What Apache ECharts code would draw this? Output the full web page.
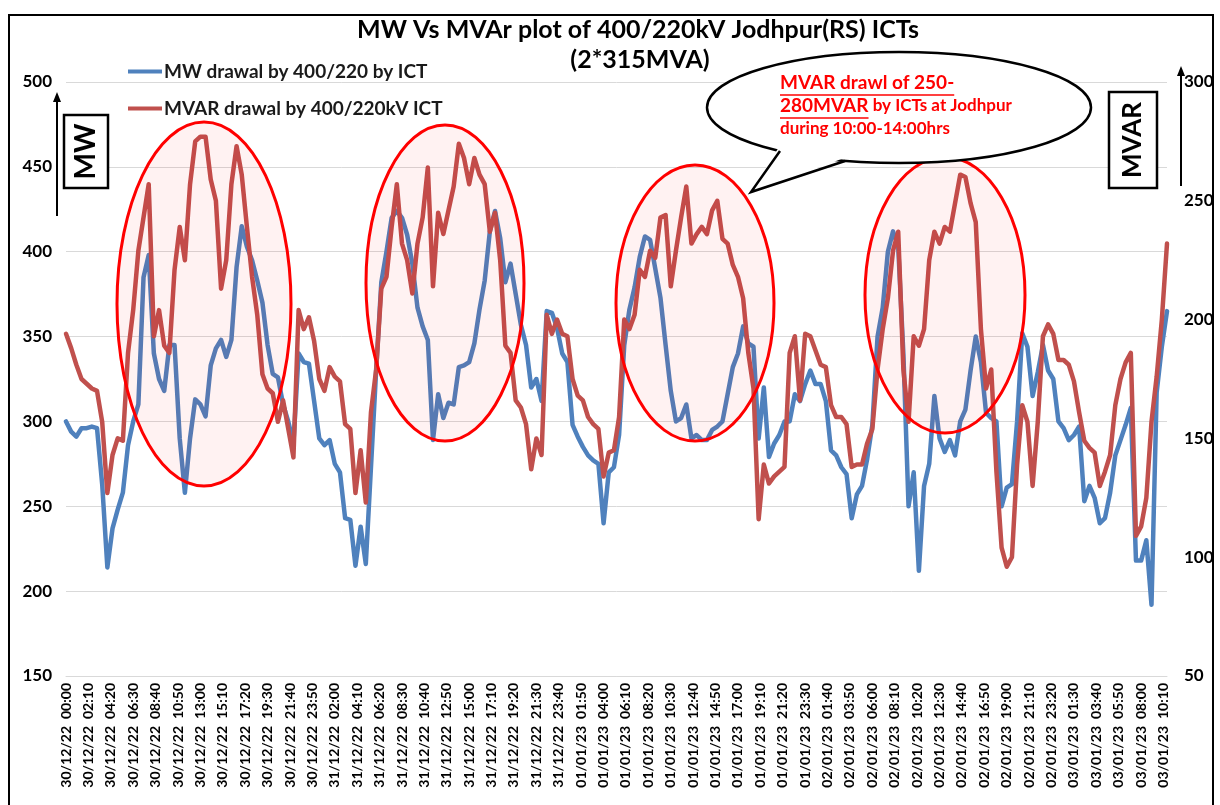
<!DOCTYPE html>
<html><head><meta charset="utf-8">
<script src="https://cdn.jsdelivr.net/npm/echarts@6/dist/echarts.min.js"></script>
<style>html,body{margin:0;padding:0;background:#fff}#c{width:1220px;height:805px}</style>
</head><body><div id="c"></div>
<script>
// ---------- data ----------
const tickLabels = ['30/12/22 00:00','30/12/22 02:10','30/12/22 04:20','30/12/22 06:30','30/12/22 08:40','30/12/22 10:50','30/12/22 13:00','30/12/22 15:10','30/12/22 17:20','30/12/22 19:30','30/12/22 21:40','30/12/22 23:50','31/12/22 02:00','31/12/22 04:10','31/12/22 06:20','31/12/22 08:30','31/12/22 10:40','31/12/22 12:50','31/12/22 15:00','31/12/22 17:10','31/12/22 19:20','31/12/22 21:30','31/12/22 23:40','01/01/23 01:50','01/01/23 04:00','01/01/23 06:10','01/01/23 08:20','01/01/23 10:30','01/01/23 12:40','01/01/23 14:50','01/01/23 17:00','01/01/23 19:10','01/01/23 21:20','01/01/23 23:30','02/01/23 01:40','02/01/23 03:50','02/01/23 06:00','02/01/23 08:10','02/01/23 10:20','02/01/23 12:30','02/01/23 14:40','02/01/23 16:50','02/01/23 19:00','02/01/23 21:10','02/01/23 23:20','03/01/23 01:30','03/01/23 03:40','03/01/23 05:50','03/01/23 08:00','03/01/23 10:10'];
const labelEvery = 13;          // one tick label every 13 samples (130 min)
const sampleCount = 640;        // 10-minute samples
const sampleStep = 3;           // values below are read every 3rd sample (30 min)

const mwValues = [
300,294,291,296,296,297,296,263,214,237,248,258,286,300,310,385,398,340,325,318,345,345,290,258,290,313,310,303,333,343,348,
338,348,391,415,403,395,383,370,345,328,326,310,300,287,340,335,334,312,290,286,289,275,270,243,242,215,238,216,273,330,382,
400,420,424,420,410,393,367,356,348,289,316,302,311,310,332,333,335,346,366,383,412,424,408,382,393,375,357,345,320,325,312,
365,364,355,340,335,298,291,285,280,277,275,240,270,273,292,345,366,379,397,409,407,390,373,345,318,300,302,310,290,292,289,
289,295,297,300,316,332,340,356,346,344,290,320,279,287,292,300,300,316,312,322,330,322,322,312,283,280,273,269,243,257,262,
278,298,350,367,400,412,403,340,250,270,212,262,275,315,290,282,289,280,300,307,330,350,335,305,302,300,250,261,263,300,352,
344,315,329,345,330,325,300,296,289,292,297,253,262,255,240,243,258,280,289,298,308,218,218,230,192,317,344,365];

const mvarValues = [
194,188,181,175,173,171,170,157,127,143,150,149,186,204,229,243,257,193,204,189,186,221,239,225,257,275,277,277,259,250,213,
225,257,273,261,239,218,202,177,171,169,157,166,154,142,204,196,201,191,175,170,180,176,174,156,154,127,145,123,161,179,213,
218,239,257,232,225,211,232,243,264,214,245,236,246,256,274,268,257,268,261,257,237,245,225,189,186,166,163,156,137,150,143,
202,194,200,194,193,175,168,166,159,156,154,134,144,145,159,200,196,202,221,218,229,226,243,244,214,229,243,256,232,236,239,
236,246,250,234,232,223,218,209,186,171,116,139,131,134,136,138,186,193,166,194,193,187,181,180,164,159,159,156,138,139,139,
148,154,179,196,209,229,237,179,157,193,189,196,225,237,232,239,237,249,261,260,249,241,196,171,179,136,104,96,100,139,164,
157,130,157,193,198,194,183,183,181,174,161,149,146,144,130,136,143,164,175,182,186,109,113,125,157,176,200,232];

const seriesNames = ['MW drawal by 400/220 by ICT','MVAR drawal by 400/220kV ICT'];
const titleLines = ['MW Vs MVAr plot of 400/220kV Jodhpur(RS) ICTs','(2*315MVA)'];
const calloutLines = ['MVAR drawl of 250-','280MVAR',' by ICTs at Jodhpur','during 10:00-14:00hrs'];

// ---------- categories (10-minute timestamps) ----------
function pad(n){return (n<10?'0':'')+n;}
const t0 = Date.UTC(2022,11,30,0,0);
const categories = [];
for (let i=0;i<sampleCount;i++){
  const d = new Date(t0 + i*600000);
  categories.push(pad(d.getUTCDate())+'/'+pad(d.getUTCMonth()+1)+'/'+String(d.getUTCFullYear()).slice(2)+' '+pad(d.getUTCHours())+':'+pad(d.getUTCMinutes()));
}

// ---------- helpers ----------
const FF = 'Lato';
function textWidth(t, size){
  const c = document.createElement('canvas').getContext('2d');
  c.font = 'bold '+size+'px '+FF;
  return c.measureText(t).width;
}
const RED = '#ff0000';
function redEllipse(cx,cy,rx,ry){
  return {type:'ellipse', z:100, shape:{cx,cy,rx,ry}, style:{fill:'rgba(255,0,0,0.05)', stroke:RED, lineWidth:3}};
}
function upArrow(x, y1, y2){
  return [
    {type:'line', z:100, shape:{x1:x,y1:y1,x2:x,y2:y2+8}, style:{stroke:'#000', lineWidth:2}},
    {type:'polygon', z:100, shape:{points:[[x,y2],[x-4,y2+10],[x+4,y2+10]]}, style:{fill:'#000'}}
  ];
}
function labelBox(x,y,w,h,txt,size){
  return [
    {type:'rect', z:100, shape:{x,y,width:w,height:h}, style:{fill:'#fff', stroke:'#000', lineWidth:2.5}},
    {type:'text', z:101, x:x+w/2, y:y+h/2, rotation:Math.PI/2,
     style:{text:txt, font:'bold '+size+'px '+FF, fill:'#000', textAlign:'center', textVerticalAlign:'middle'}}
  ];
}

// callout text layout
const cFs = 19, cx0 = 780;
const w1 = textWidth(calloutLines[0], cFs), w2 = textWidth(calloutLines[1], cFs);

const graphics = [
  {type:'rect', z:100, shape:{x:9,y:15,width:1204,height:800}, style:{fill:'transparent', stroke:'#000', lineWidth:2}},
  {type:'text', z:101, x:638, y:30, style:{text:titleLines[0], font:'bold 25px '+FF, fill:'#000', textAlign:'center', textVerticalAlign:'middle'}},
  {type:'text', z:101, x:640, y:60, style:{text:titleLines[1], font:'bold 25px '+FF, fill:'#000', textAlign:'center', textVerticalAlign:'middle'}},
  redEllipse(204,304,87,182),
  redEllipse(445,283,79,158),
  redEllipse(695,303,79,138),
  redEllipse(945,295,80,138),
  // callout
  {type:'ellipse', z:102, shape:{cx:899,cy:107.5,rx:192,ry:55.5}, style:{fill:'#fff', stroke:'#000', lineWidth:2.5}},
  {type:'polygon', z:103, shape:{points:[[779,147],[751,192],[847,157]]}, style:{fill:'#fff'}},
  {type:'polyline', z:104, shape:{points:[[780,151],[751,192],[845,161]]}, style:{stroke:'#000', lineWidth:2.5, fill:null}},
  {type:'text', z:105, x:cx0, y:83, style:{text:calloutLines[0], font:'bold '+cFs+'px '+FF, fill:RED, textAlign:'left', textVerticalAlign:'middle'}},
  {type:'line', z:105, shape:{x1:cx0,y1:95,x2:cx0+w1,y2:95}, style:{stroke:RED, lineWidth:1.5}},
  {type:'text', z:105, x:cx0, y:106, style:{text:calloutLines[1], font:'bold '+cFs+'px '+FF, fill:RED, textAlign:'left', textVerticalAlign:'middle'}},
  {type:'line', z:105, shape:{x1:cx0,y1:118,x2:cx0+w2,y2:118}, style:{stroke:RED, lineWidth:1.5}},
  {type:'text', z:105, x:cx0+w2, y:106, style:{text:calloutLines[2], font:'bold 17px '+FF, fill:RED, textAlign:'left', textVerticalAlign:'middle'}},
  {type:'text', z:105, x:cx0, y:129, style:{text:calloutLines[3], font:'bold 17px '+FF, fill:RED, textAlign:'left', textVerticalAlign:'middle'}},
  ...labelBox(64,115,44,73,'MW',28),
  ...upArrow(57,216,92),
  ...labelBox(1109,92,48,96,'MVAR',26),
  ...upArrow(1181,186,66)
];

const chart = echarts.init(document.getElementById('c'), null, {renderer:'canvas'});
chart.setOption({
  animation:false,
  backgroundColor:'#fff',
  textStyle:{fontFamily:FF},
  grid:{left:66, right:53, top:82, bottom:129, containLabel:false},
  legend:{orient:'vertical', left:128, top:62, padding:0, itemWidth:34, itemHeight:4, itemGap:18, icon:'rect',
    textStyle:{fontFamily:FF, fontWeight:'bold', fontSize:19, color:'#1a1a1a', padding:[0,0,0,-3]},
    data:seriesNames},
  xAxis:{type:'category', data:categories, boundaryGap:false,
    axisLine:{lineStyle:{color:'#d9d9d9', width:1}}, axisTick:{show:false},
    axisLabel:{interval:labelEvery-1, rotate:90, margin:7, color:'#000', fontFamily:FF, fontWeight:'bold', fontSize:14,
      formatter:(v,idx)=>{const k=idx/labelEvery; return (tickLabels[k]||v).replace(' ','  ');}},
    splitLine:{show:false}},
  yAxis:[
    {type:'value', min:150, max:500, interval:50, position:'left',
     axisLine:{show:false}, axisTick:{show:false},
     axisLabel:{margin:14, color:'#000', fontFamily:FF, fontWeight:'bold', fontSize:17},
     splitLine:{lineStyle:{color:'#d9d9d9', width:1}}},
    {type:'value', min:50, max:300, interval:50, position:'right',
     axisLine:{show:false}, axisTick:{show:false},
     axisLabel:{margin:17, color:'#000', fontFamily:FF, fontWeight:'bold', fontSize:17},
     splitLine:{show:false}}
  ],
  series:[
    {name:seriesNames[0], type:'line', yAxisIndex:0, showSymbol:false, symbol:'none', z:2,
     data:mwValues.map((v,i)=>[i*sampleStep, v]),
     itemStyle:{color:'#4f81bd'}, lineStyle:{color:'#4f81bd', width:4.5, cap:'round', join:'round'}},
    {name:seriesNames[1], type:'line', yAxisIndex:1, showSymbol:false, symbol:'none', z:3,
     data:mvarValues.map((v,i)=>[i*sampleStep, v]),
     itemStyle:{color:'#c0504d'}, lineStyle:{color:'#c0504d', width:4.5, cap:'round', join:'round'}}
  ],
  graphic:graphics
});
</script></body></html>
